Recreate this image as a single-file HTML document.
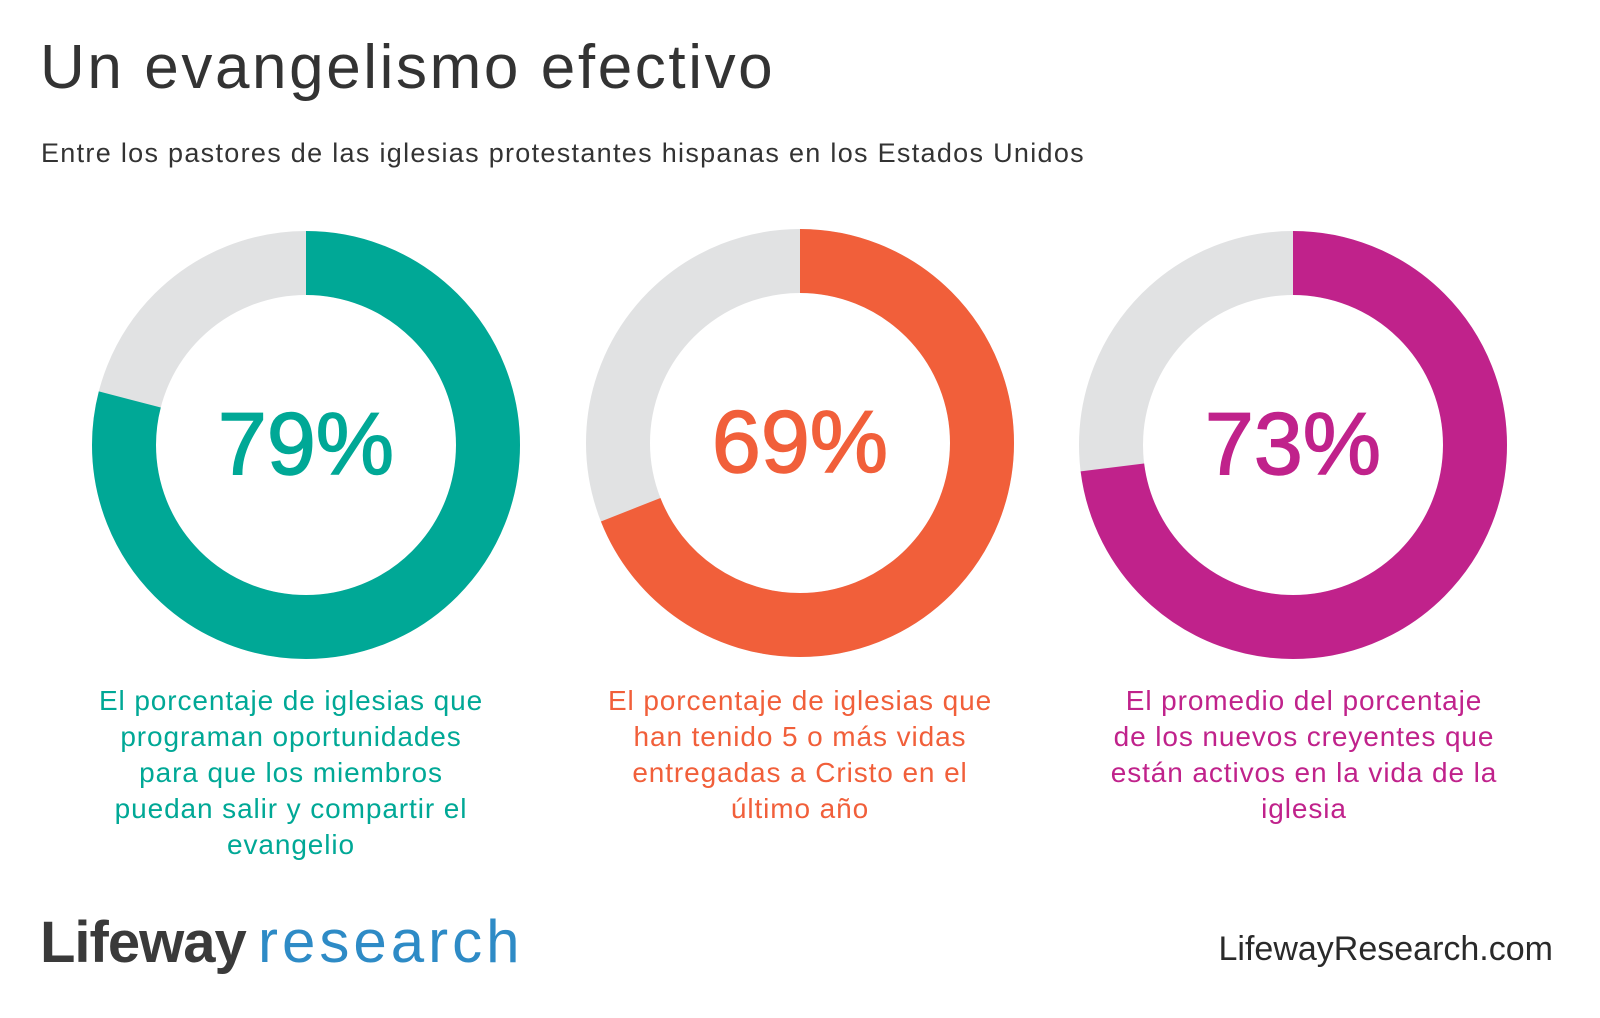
<!DOCTYPE html>
<html><head><meta charset="utf-8"><style>
html,body{margin:0;padding:0;background:#fff;}
svg{display:block;}
text{font-family:"Liberation Sans","DejaVu Sans",sans-serif;}
</style></head><body>
<svg width="1600" height="1018" viewBox="0 0 1600 1018" xmlns="http://www.w3.org/2000/svg">
<rect width="1600" height="1018" fill="#fff"/>
<text x="40" y="88" font-size="62" fill="#333" letter-spacing="2.6">Un evangelismo efectivo</text>
<text x="41" y="162" font-size="27" fill="#333" letter-spacing="1.3">Entre los pastores de las iglesias protestantes hispanas en los Estados Unidos</text>

<g fill="none" stroke-width="64">
<circle cx="306" cy="445" r="182" stroke="#e1e2e3"/>
<circle cx="306" cy="445" r="182" stroke="#00a896" stroke-dasharray="903.4 1143.5" transform="rotate(-90 306 445)"/>
<circle cx="800" cy="443" r="182" stroke="#e1e2e3"/>
<circle cx="800" cy="443" r="182" stroke="#f15f3a" stroke-dasharray="789 1143.5" transform="rotate(-90 800 443)"/>
<circle cx="1293" cy="445" r="182" stroke="#e1e2e3"/>
<circle cx="1293" cy="445" r="182" stroke="#c0228b" stroke-dasharray="834.8 1143.5" transform="rotate(-90 1293 445)"/>
</g>

<g font-size="88" text-anchor="middle" stroke-width="1.5">
<text x="306" y="474" fill="#00a896" stroke="#00a896">79%</text>
<text x="800" y="472" fill="#f15f3a" stroke="#f15f3a">69%</text>
<text x="1293" y="474" fill="#c0228b" stroke="#c0228b">73%</text>
</g>

<g font-size="28" letter-spacing="0.9" text-anchor="middle" fill="#00a896">
<text x="291" y="710">El porcentaje de iglesias que</text>
<text x="291" y="746">programan oportunidades</text>
<text x="291" y="782">para que los miembros</text>
<text x="291" y="818">puedan salir y compartir el</text>
<text x="291" y="854">evangelio</text>
</g>
<g font-size="28" letter-spacing="0.9" text-anchor="middle" fill="#f15f3a">
<text x="800" y="710">El porcentaje de iglesias que</text>
<text x="800" y="746">han tenido 5 o más vidas</text>
<text x="800" y="782">entregadas a Cristo en el</text>
<text x="800" y="818">último año</text>
</g>
<g font-size="28" letter-spacing="0.9" text-anchor="middle" fill="#c0228b">
<text x="1304" y="710">El promedio del porcentaje</text>
<text x="1304" y="746">de los nuevos creyentes que</text>
<text x="1304" y="782">están activos en la vida de la</text>
<text x="1304" y="818">iglesia</text>
</g>

<text x="40" y="962" font-size="58" font-weight="bold" fill="#3a3a3a" letter-spacing="-1">Lifeway</text>
<text x="258" y="962" font-size="60" fill="#2e8bc6" letter-spacing="4">research</text>
<text x="1553" y="960" font-size="34" fill="#2a2a2a" text-anchor="end">LifewayResearch.com</text>
</svg>
</body></html>
